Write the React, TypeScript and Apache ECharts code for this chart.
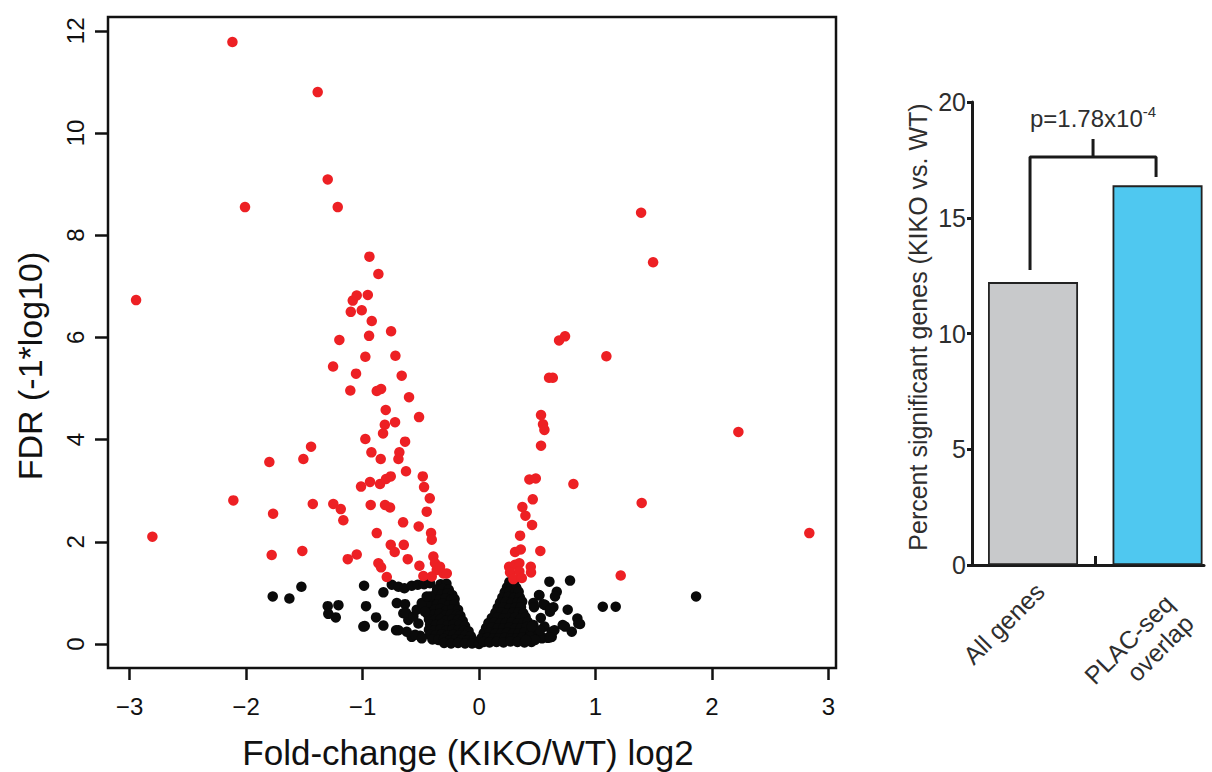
import React, { useEffect, useRef } from "react";
import * as echarts from "echarts";

// ---------- Volcano plot data ----------
const xTicks = [-3, -2, -1, 0, 1, 2, 3];
const yTicks = [0, 2, 4, 6, 8, 10, 12];

// significant genes (FDR < 0.05), red
const sigGenes: [number, number][] = [
  [-2.944, 6.73], [-2.804, 2.1], [-2.117, 11.78], [-2.109, 2.81], [-2.009, 8.55],
  [-1.8, 3.56], [-1.768, 2.55], [-1.78, 1.74], [-1.517, 1.82], [-1.508, 3.62],
  [-1.442, 3.86], [-1.385, 10.8], [-1.299, 9.09], [-1.213, 8.55], [-1.427, 2.74],
  [-1.251, 2.74], [-1.187, 2.64], [-1.165, 2.42], [-1.127, 1.66], [-1.05, 1.75],
  [-1.253, 5.43], [-1.199, 5.95], [-1.105, 4.96], [-1.101, 6.5], [-1.084, 6.72],
  [-1.056, 5.29], [-1.05, 6.82], [-1.007, 6.53], [-0.976, 5.62], [-0.976, 4.01],
  [-0.955, 6.83], [-0.944, 6.03], [-0.941, 7.58], [-0.921, 6.32], [-0.878, 4.95],
  [-0.864, 7.24], [-0.841, 4.99], [-0.824, 4.12], [-0.809, 4.29], [-0.801, 4.58],
  [-0.755, 6.12], [-0.721, 4.34], [-0.718, 5.64], [-0.664, 5.25], [-0.635, 3.96],
  [-0.601, 4.83], [-0.515, 4.44], [-1.013, 3.08], [-0.936, 3.17], [-0.85, 3.13],
  [-0.798, 3.23], [-0.758, 3.28], [-0.924, 3.75], [-0.844, 3.62], [-0.684, 3.75],
  [-0.692, 3.62], [-0.627, 3.38], [-0.483, 3.28], [-0.472, 3.07], [-0.423, 2.85],
  [-0.93, 2.72], [-0.807, 2.72], [-0.764, 2.67], [-0.449, 2.59], [-0.652, 2.38],
  [-0.518, 2.3], [-0.878, 2.17], [-0.412, 2.17], [-0.406, 2.04], [-0.758, 1.94],
  [-0.724, 1.8], [-0.646, 1.94], [-0.612, 1.66], [-0.864, 1.58], [-0.841, 1.5],
  [-0.792, 1.31], [-0.512, 1.53], [-0.392, 1.71], [-0.378, 1.58], [-0.363, 1.45],
  [-0.335, 1.51], [-0.306, 1.38], [-0.406, 1.32], [-0.478, 1.33], [-0.277, 1.38],
  [0.258, 1.51], [0.309, 1.55], [0.346, 1.58], [0.266, 1.4], [0.346, 1.42],
  [0.444, 1.51], [0.446, 1.4], [0.295, 1.27], [0.367, 1.29], [0.309, 1.8],
  [0.358, 1.85], [0.526, 1.82], [0.352, 2.12], [0.455, 2.33], [0.398, 2.51],
  [0.372, 2.68], [0.461, 2.83], [0.432, 3.22], [0.487, 3.24], [0.81, 3.13],
  [0.532, 3.88], [0.532, 4.48], [0.549, 4.3], [0.561, 4.19], [0.601, 5.21],
  [0.633, 5.21], [0.687, 5.94], [0.738, 6.02], [1.093, 5.63], [1.391, 8.44],
  [1.494, 7.47], [2.226, 4.15], [1.396, 2.76], [2.835, 2.17], [1.216, 1.34],
];

// non-significant genes scattered outside the dense core, black
const nsScatter: [number, number][] = [
  [-1.771, 0.93], [-1.628, 0.89], [-1.525, 1.12], [-1.299, 0.74], [-1.207, 0.76],
  [-1.294, 0.59], [-1.23, 0.52], [-0.987, 1.14], [-0.821, 1.01], [-0.97, 0.74],
  [-0.884, 0.52], [-0.981, 0.35], [-0.821, 0.36], [-0.749, 1.16], [-0.692, 1.12],
  [-0.641, 1.09], [-0.578, 1.14], [-0.526, 1.16], [-0.472, 1.17], [-0.421, 1.19],
  [-0.706, 0.8], [-0.635, 0.78], [-0.65, 0.6], [-0.607, 0.47], [-0.712, 0.27],
  [-0.578, 0.14], [-0.506, 0.16], [-0.521, 0.4], [-0.478, 0.7], [-0.449, 0.8],
  [-0.421, 0.93], [-0.627, 0.61], [-0.692, 0.27], [-0.621, 0.24], [-0.549, 0.18],
  [-0.492, 0.11], [-0.993, 0.34], [-0.564, 0.54], [-0.535, 0.67], [-0.492, 0.8],
  [-0.449, 0.93], [-0.464, 0.63],
  [0.604, 1.22], [0.781, 1.24], [1.863, 0.93], [1.062, 0.73], [1.173, 0.73],
  [0.667, 1.02], [0.652, 0.93], [0.518, 0.95], [0.466, 0.8], [0.567, 0.76],
  [0.638, 0.72], [0.609, 0.63], [0.761, 0.67], [0.844, 0.5], [0.53, 0.51],
  [0.466, 0.37], [0.561, 0.34], [0.718, 0.37], [0.867, 0.39], [0.796, 0.24],
  [0.624, 0.24], [0.624, 0.14], [0.532, 0.14], [0.423, 0.11], [0.515, 0.96],
  [0.552, 0.78], [0.472, 0.72], [0.615, 0.68], [0.852, 0.4], [0.738, 0.34],
  [0.647, 0.27], [0.609, 0.13], [0.524, 0.27], [0.452, 0.34], [0.438, 0.14],
  [0.481, 0.08], [0.403, 0.08],
];

// non-significant genes in the dense V-shaped core, black
const nsCore: [number, number][] = [
  [-0.33, 1.17], [-0.28, 1.18],
  [-0.36, 1.07], [-0.31, 1.08], [-0.26, 1.06],
  [-0.37, 0.98], [-0.32, 0.97], [-0.27, 0.99], [-0.23, 0.96],
  [-0.39, 0.88], [-0.34, 0.87], [-0.29, 0.89], [-0.24, 0.86], [-0.21, 0.88],
  [-0.41, 0.78], [-0.36, 0.77], [-0.31, 0.79], [-0.26, 0.76], [-0.21, 0.78],
  [-0.43, 0.68], [-0.38, 0.67], [-0.33, 0.69], [-0.28, 0.66], [-0.23, 0.68], [-0.18, 0.67],
  [-0.44, 0.58], [-0.39, 0.57], [-0.34, 0.59], [-0.29, 0.56], [-0.24, 0.58], [-0.19, 0.57], [-0.16, 0.55],
  [-0.43, 0.48], [-0.38, 0.47], [-0.33, 0.49], [-0.28, 0.46], [-0.23, 0.48], [-0.18, 0.47], [-0.14, 0.45],
  [-0.42, 0.38], [-0.37, 0.37], [-0.32, 0.39], [-0.27, 0.36], [-0.22, 0.38], [-0.17, 0.37], [-0.12, 0.35],
  [-0.43, 0.28], [-0.38, 0.27], [-0.33, 0.29], [-0.28, 0.26], [-0.23, 0.28], [-0.18, 0.27], [-0.13, 0.26], [-0.09, 0.25],
  [-0.42, 0.18], [-0.37, 0.17], [-0.32, 0.19], [-0.27, 0.16], [-0.22, 0.18], [-0.17, 0.17], [-0.12, 0.16], [-0.07, 0.15],
  [-0.4, 0.09], [-0.35, 0.08], [-0.3, 0.1], [-0.25, 0.07], [-0.2, 0.09], [-0.15, 0.08], [-0.1, 0.07], [-0.05, 0.06], [-0.02, 0.03],
  [-0.3, 0.02], [-0.24, 0.01], [-0.18, 0.02], [-0.12, 0.01], [-0.06, 0.01], [0.0, 0.0],
  [0.26, 1.21], [0.3, 1.2],
  [0.24, 1.11], [0.28, 1.12], [0.32, 1.1],
  [0.22, 1.01], [0.26, 1.02], [0.31, 1.0], [0.34, 1.02],
  [0.2, 0.91], [0.25, 0.92], [0.3, 0.9], [0.35, 0.91],
  [0.18, 0.81], [0.23, 0.82], [0.28, 0.8], [0.33, 0.81], [0.37, 0.83],
  [0.16, 0.71], [0.21, 0.72], [0.26, 0.7], [0.31, 0.71], [0.36, 0.72],
  [0.14, 0.61], [0.19, 0.62], [0.24, 0.6], [0.29, 0.61], [0.34, 0.62], [0.38, 0.6],
  [0.11, 0.51], [0.16, 0.52], [0.21, 0.5], [0.26, 0.51], [0.31, 0.52], [0.36, 0.5], [0.4, 0.52],
  [0.08, 0.41], [0.13, 0.42], [0.18, 0.4], [0.23, 0.41], [0.28, 0.42], [0.33, 0.4], [0.38, 0.41], [0.42, 0.43],
  [0.06, 0.31], [0.11, 0.32], [0.16, 0.3], [0.21, 0.31], [0.26, 0.32], [0.31, 0.3], [0.36, 0.31], [0.41, 0.33], [0.46, 0.3],
  [0.04, 0.21], [0.09, 0.22], [0.14, 0.2], [0.19, 0.21], [0.24, 0.22], [0.29, 0.2], [0.34, 0.21], [0.39, 0.23], [0.44, 0.2], [0.5, 0.22],
  [0.02, 0.11], [0.07, 0.12], [0.12, 0.1], [0.17, 0.11], [0.22, 0.12], [0.27, 0.1], [0.32, 0.11], [0.37, 0.13], [0.42, 0.1], [0.48, 0.12], [0.54, 0.11], [0.59, 0.12],
  [0.04, 0.04], [0.09, 0.03], [0.15, 0.04], [0.21, 0.03], [0.27, 0.05], [0.33, 0.04], [0.39, 0.03], [0.45, 0.04],
];

// ---------- Bar chart data ----------
const categories = ["All genes", "PLAC-seq\noverlap"];
const percentSig = [12.22, 16.4];
const barColors = ["#C8C9CB", "#4FC8F0"];
const barTicks = [0, 5, 10, 15, 20];
const bracketPath: [number, number][] = [[0.976, 12.74], [0.976, 17.62], [1.988, 17.62], [1.988, 16.76]];
const bracketStem: [number, number][] = [[1.482, 17.62], [1.482, 18.4]];
const pText = "p=1.78x10";
const pExp = "-4";

const FONT = "'Liberation Sans', Arial, Helvetica, sans-serif";
const INK = "#111111";
const GREY_INK = "#2e2e2e";

const fmtTick = (v: number) => (v < 0 ? "\u2212" + Math.abs(v) : String(v));

function buildOption(): any {
  return {
    animation: false,
    backgroundColor: "#ffffff",
    grid: [
      { left: 108, top: 17, width: 728, height: 651, show: true, borderColor: INK, borderWidth: 2.5, backgroundColor: "transparent" },
      { left: 972, top: 102, width: 232, height: 463, show: false },
    ],
    xAxis: [
      {
        gridIndex: 0, type: "value", min: -3.185, max: 3.064,
        axisLine: { show: false, onZero: false },
        splitLine: { show: false },
        axisTick: { show: true, customValues: xTicks, length: 12, lineStyle: { color: INK, width: 2.5 } },
        axisLabel: { customValues: xTicks, formatter: fmtTick, fontSize: 24, color: INK, margin: 26, fontFamily: FONT },
      },
      {
        gridIndex: 1, type: "value", min: 0.51, max: 2.373,
        axisLine: { show: true, onZero: false, lineStyle: { color: "#1a1a1a", width: 3 } },
        splitLine: { show: false },
        axisTick: { show: true, inside: true, customValues: [1.5], length: 9, lineStyle: { color: "#1a1a1a", width: 3 } },
        axisLabel: { show: false },
      },
    ],
    yAxis: [
      {
        gridIndex: 0, type: "value", min: -0.47, max: 12.27,
        axisLine: { show: false, onZero: false },
        splitLine: { show: false },
        axisTick: { show: true, customValues: yTicks, length: 13, lineStyle: { color: INK, width: 2.5 } },
        axisLabel: { customValues: yTicks, rotate: 90, fontSize: 24, color: INK, margin: 21, fontFamily: FONT },
      },
      {
        gridIndex: 1, type: "value", min: 0, max: 20, interval: 5,
        axisLine: { show: true, onZero: false, lineStyle: { color: "#1a1a1a", width: 3 } },
        splitLine: { show: false },
        axisTick: { show: true, length: 5, lineStyle: { color: "#1a1a1a", width: 3 } },
        axisLabel: { customValues: barTicks, fontSize: 25, color: GREY_INK, margin: 6, fontFamily: FONT },
      },
    ],
    series: [
      {
        name: "Not significant (core)", type: "scatter", xAxisIndex: 0, yAxisIndex: 0,
        symbolSize: 10.5, itemStyle: { color: "#0a0a0a", opacity: 1 }, data: nsCore, silent: true,
      },
      {
        name: "Not significant", type: "scatter", xAxisIndex: 0, yAxisIndex: 0,
        symbolSize: 10.5, itemStyle: { color: "#0a0a0a", opacity: 1 }, data: nsScatter, silent: true,
      },
      {
        name: "Significant", type: "scatter", xAxisIndex: 0, yAxisIndex: 0,
        symbolSize: 10.5, itemStyle: { color: "#ED2024", opacity: 1 }, data: sigGenes, silent: true, z: 3,
      },
      {
        name: "Percent significant", type: "bar", xAxisIndex: 1, yAxisIndex: 1, barWidth: 90,
        data: percentSig.map((v, i) => ({ value: [i + 1, v], itemStyle: { color: barColors[i] } })),
        itemStyle: { borderColor: "#222222", borderWidth: 1.8 },
        silent: true, z: 2,
      },
      {
        type: "line", xAxisIndex: 1, yAxisIndex: 1, data: bracketPath, symbol: "none",
        lineStyle: { color: "#1a1a1a", width: 3 }, silent: true, z: 4,
      },
      {
        type: "line", xAxisIndex: 1, yAxisIndex: 1, data: bracketStem, symbol: "none",
        lineStyle: { color: "#1a1a1a", width: 3 }, silent: true, z: 4,
      },
    ],
    graphic: [
      {
        type: "text", x: 30, y: 366, rotation: Math.PI / 2,
        style: { text: "FDR (-1*log10)", fontSize: 34, fontFamily: FONT, fill: INK, align: "center", verticalAlign: "middle" },
      },
      {
        type: "text", x: 468, y: 752,
        style: { text: "Fold-change (KIKO/WT) log2", fontSize: 35, fontFamily: FONT, fill: INK, align: "center", verticalAlign: "middle" },
      },
      {
        type: "text", x: 918, y: 327, rotation: Math.PI / 2,
        style: { text: "Percent significant genes (KIKO vs. WT)", fontSize: 25, fontFamily: FONT, fill: GREY_INK, align: "center", verticalAlign: "middle" },
      },
      {
        type: "text", x: 1093, y: 118,
        style: {
          text: "{a|" + pText + "}{b|" + pExp + "}",
          align: "center", verticalAlign: "middle",
          rich: {
            a: { fontSize: 24, fontFamily: FONT, fill: GREY_INK, lineHeight: 28 },
            b: { fontSize: 15, fontFamily: FONT, fill: GREY_INK, lineHeight: 15, verticalAlign: "top" },
          },
        },
      },
      {
        type: "text", x: 1040, y: 587, rotation: Math.PI / 4,
        style: { text: categories[0], fontSize: 25, fontFamily: FONT, fill: GREY_INK, align: "right", verticalAlign: "middle", lineHeight: 28 },
      },
      {
        type: "text", x: 1179, y: 609, rotation: Math.PI / 4,
        style: { text: categories[1], fontSize: 25, fontFamily: FONT, fill: GREY_INK, align: "right", verticalAlign: "middle", lineHeight: 28 },
      },
    ],
  };
}

export default function App() {
  const ref = useRef<HTMLDivElement>(null);
  useEffect(() => {
    if (!ref.current) return;
    const chart = echarts.init(ref.current, undefined, { renderer: "svg", width: 1212, height: 772 });
    chart.setOption(buildOption());
    return () => {
      chart.dispose();
    };
  }, []);
  return (
    <div
      ref={ref}
      style={{ position: "fixed", left: 0, top: 0, width: 1212, height: 772, background: "#ffffff" }}
    />
  );
}
